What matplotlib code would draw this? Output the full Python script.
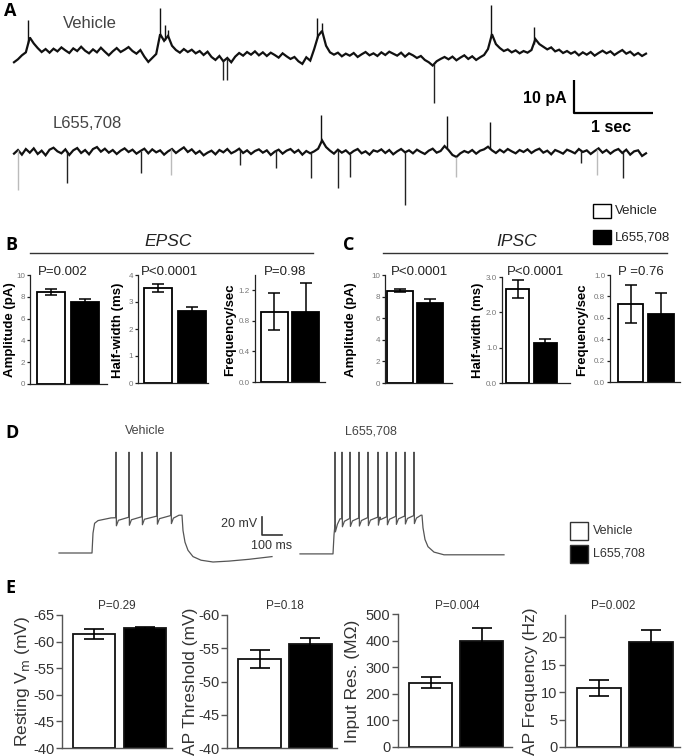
import numpy as np
import matplotlib
matplotlib.use('Agg')
import matplotlib.pyplot as plt
from matplotlib.patches import Rectangle

plt.rcParams['font.family'] = ['Liberation Sans', 'DejaVu Sans']

# ---------------------------------------------------------------- data
GROUPS = ['Vehicle', 'L655,708']

# A: example traces (pA), sampled every SAMPLE_DT seconds
SAMPLE_DT = 0.05
VEH_TRACE = [-2.5, -1.6, -0.4, 0.5, 5.0, 3.2, 1.8, 0.6, 1.5, 0.4,
             1.6, 0.8, 2.0, 1.1, 0.3, 1.7, 0.9, 2.2, 1.0, 0.2,
             1.4, 0.5, 1.9, 0.7, -0.4, 0.8, 1.8, 0.6, 1.3, 2.1,
             0.9, 0.1, 1.2, -0.8, -2.4, -1.2, 0.0,
             6.0, 4.0, 5.5, 2.5, 1.2, 0.4, 1.5,
             0.6, 1.3, 0.2, 0.9, -0.3, 0.7, -0.9, -1.8, -0.6, -2.2,
             -1.2, -2.5, -0.8, 0.3, -0.5, 0.6, -0.2, 0.8, -0.4, 0.5,
             -0.6, 0.4, -0.3, -1.1, 0.2, -0.7, -1.5, -0.9, -2.2, -3.0,
             -1.0, -2.0, 1.5,
             5.5, 7.0, 2.5, 0.5,
             -0.2, 0.4, -0.7, 0.1, -0.5, 0.3, -0.9, -0.1, 0.6, -0.4,
             0.2, -0.6, 0.5, -0.3, 0.7, 0.1, -0.5, 0.4, -0.8, 0.2,
             -0.4, -1.2, -0.6, -1.8, -2.5, -3.5, -2.2, -1.5, -0.9, -1.6,
             -0.8, -1.9, -1.1, -0.4, -1.5, -0.7, -1.8, -1.0, -0.3, 1.5,
             6.0, 3.0, 1.8, 0.9, 1.4, 0.5, 1.1, 0.2, 0.9,
             0.4, 1.2, 4.5, 3.0, 2.2, 1.4, 2.0, 0.8, 1.3, 0.3,
             0.9, 0.1, 0.7, -0.4, 0.5, -0.2, 0.6, -0.5, 0.3, 1.0,
             0.2, 0.8, -0.3, 0.5, 1.2, 0.1, 0.7, -0.4, 0.3, -0.6, 0.1]
L655_TRACE = [-0.5, 0.6, -0.8, 0.9, -0.2, 1.1, -0.6, 0.4, -1.0, 0.7,
              1.3, 0.2, -0.4, 0.8, -0.9, 0.5, 1.2, -0.3, 0.6, -0.7,
              0.9, 1.5, 0.1, 1.0, -0.2, 0.6, -0.6, 0.4, 1.1, 0.0,
              0.7, -0.5, 0.3, 1.0, -0.4, 0.8, -0.1, 0.5, -0.8, 0.2,
              0.9, -0.3, 0.6, 1.4, 0.0, 0.8, -0.5, 0.3, -1.0, -0.2,
              0.4, -0.7, 0.6, -0.1, 0.9, -0.4, 0.2, 1.0, -0.3, 0.5,
              -0.6, 0.3, 0.8, -0.2, 0.5, -0.9, 0.1, 0.7, -0.5, 0.4,
              0.9, -0.2, 0.6, -0.8, 0.3, -0.4, 0.2, 1.0, 3.5, 1.5,
              0.4, -0.5, 0.7, -0.2, 0.5, -0.6, 0.3, 0.9, -0.4, 0.2,
              -0.8, 0.5, 0.1, 0.8, -0.3, 0.6, -0.7, 0.2, 0.9, -0.1,
              0.5, -0.4, 0.7, 0.0, -0.6, 0.4, 1.0, -0.2, 0.3, 1.8,
              0.6, -0.9, -1.5, -0.4, 0.3, -0.2, 0.6, -0.5, 0.4, 0.8,
              1.6, 0.5, -0.3, 0.7, -0.1, 0.9, 0.2, -0.4, 0.6, 0.0,
              0.8, -0.3, 0.5, 1.0, -0.2, 0.4, -0.7, 0.6, 0.1, -0.5,
              0.7, 0.2, -0.4, 0.9, 0.0, 0.5, -0.6, 0.3, 1.1, -0.2,
              0.6, -0.5, 0.4, 0.9, -0.3, 0.7, -0.8, 0.2, 0.5, -1.2, -0.4]
VEH_UP_T = [0.18, 1.85, 1.91, 1.95, 3.84, 3.90, 6.04, 6.58]
VEH_UP_PEAK = [10.3, 13.9, 8.8, 7.3, 10.9, 9.4, 14.8, 8.2]
VEH_DOWN_T = [2.65, 2.70, 5.32]
VEH_DOWN_PEAK = [-7.9, -7.9, -14.8]
L655_UP_T = [3.89, 5.48, 6.03]
L655_UP_PEAK = [11.2, 10.9, 9.1]
L655_DOWN_T = [0.05, 0.67, 1.61, 1.99, 2.86, 3.32, 3.76, 4.10, 4.25, 4.95, 5.59, 7.18, 7.38, 7.71]
L655_DOWN_PEAK = [-11.5, -9.4, -6.4, -7.0, -3.9, -4.8, -7.9, -10.9, -7.6, -16.1, -7.6, -3.3, -7.0, -7.9]
L655_DOWN_FAINT = [1, 0, 0, 1, 0, 0, 0, 0, 0, 0, 1, 0, 1, 0]
A_SCALE_T = 1.0    # s
A_SCALE_I = 10.0   # pA

# B: EPSC
EPSC_AMP, EPSC_AMP_ERR = [8.4, 7.55], [0.27, 0.22]
EPSC_HW, EPSC_HW_ERR = [3.52, 2.65], [0.15, 0.16]
EPSC_FREQ, EPSC_FREQ_ERR = [0.92, 0.92], [0.24, 0.37]
EPSC_P = ['P=0.002', 'P<0.0001', 'P=0.98']
# C: IPSC
IPSC_AMP, IPSC_AMP_ERR = [8.55, 7.38], [0.15, 0.40]
IPSC_HW, IPSC_HW_ERR = [2.66, 1.14], [0.25, 0.10]
IPSC_FREQ, IPSC_FREQ_ERR = [0.73, 0.64], [0.175, 0.19]
IPSC_P = ['P<0.0001', 'P<0.0001', 'P =0.76']

# D: current-clamp traces (ms, mV)
D_VEH_T = [0, 165, 170, 178, 195, 260, 600, 615, 620, 630, 645, 670, 710, 770, 850, 950, 1065]
D_VEH_V = [-70, -70, -48, -37, -34, -31, -28, -28, -45, -58, -67, -74, -78, -80, -79, -77, -74]
D_VEH_SPIKES = [285, 350, 415, 490, 560]
D_L655_T = [0, 165, 170, 175, 200, 400, 605, 610, 615, 625, 640, 670, 720, 820, 1020]
D_L655_V = [-71, -71, -50, -38, -32, -30, -28, -28, -42, -55, -63, -69, -72, -72, -72]
D_L655_SPIKES = [175, 210, 250, 295, 340, 390, 435, 480, 525, 570]
D_SPIKE_PEAK = 42.0
D_AHP_DROP = 9.0
D_SCALE_T = 100.0  # ms
D_SCALE_V = 20.0   # mV

# E: intrinsic properties
RMP, RMP_ERR = [-61.4, -62.5], [0.9, 0.2]
THR, THR_ERR = [-53.4, -55.7], [1.35, 0.85]
RIN, RIN_ERR = [242, 399], [22, 47]
APF, APF_ERR = [10.65, 19.1], [1.45, 2.1]
E_P = ['P=0.29', 'P=0.18', 'P=0.004', 'P=0.002']

# ---------------------------------------------------------------- figure
W, H = 685, 756
fig = plt.figure(figsize=(W / 100, H / 100), dpi=100)


def fx(px):
    return px / W


def fy(py):
    return 1 - py / H


def ax_px(l, t, r, b):
    return fig.add_axes([l / W, 1 - b / H, (r - l) / W, (b - t) / H])


def label(px, py, s, **kw):
    fig.text(fx(px), fy(py), s, **kw)


PANEL_FONT = dict(fontsize=13, fontweight='bold', family=['Open Sans', 'DejaVu Sans'],
                  ha='left', va='center')

# ---------------------------------------------------------------- A
axA = ax_px(0, 0, 685, 210)
axA.set_axis_off()
axA.set_xlim(-14 / 79, 671 / 79)
axA.set_ylim(-(210 - 54) / 3.3, 54 / 3.3)
L655_OFF = -(152 - 54) / 3.3

tv = np.arange(len(VEH_TRACE)) * SAMPLE_DT
tl = np.arange(len(L655_TRACE)) * SAMPLE_DT
veh = np.array(VEH_TRACE)
l655 = np.array(L655_TRACE) + L655_OFF
axA.plot(tv, veh, color='#111111', lw=1.6, solid_joinstyle='miter')
axA.plot(tl, l655, color='#111111', lw=1.6, solid_joinstyle='miter')
axA.vlines(VEH_UP_T, np.interp(VEH_UP_T, tv, veh), VEH_UP_PEAK, color='#111111', lw=1.0)
axA.vlines(VEH_DOWN_T, np.interp(VEH_DOWN_T, tv, veh), VEH_DOWN_PEAK, color='#222222', lw=1.0)
axA.vlines(L655_UP_T, np.interp(L655_UP_T, tl, l655), np.array(L655_UP_PEAK) + L655_OFF,
           color='#111111', lw=1.0)
for t, p, faint in zip(L655_DOWN_T, L655_DOWN_PEAK, L655_DOWN_FAINT):
    axA.vlines(t, np.interp(t, tl, l655), p + L655_OFF,
               color='#bbbbbb' if faint else '#222222', lw=1.0)
# scale bar
sb_t0 = (574 - 14) / 79
sb_i0 = -(113 - 54) / 3.3
axA.plot([sb_t0, sb_t0, sb_t0 + A_SCALE_T], [sb_i0 + A_SCALE_I, sb_i0, sb_i0],
         color='black', lw=1.6, solid_capstyle='butt')
label(545, 98, '10 pA', fontsize=11.5, fontweight='bold', ha='center', va='center')
label(611, 127, '1 sec', fontsize=11.5, fontweight='bold', ha='center', va='center')
label(90, 24, 'Vehicle', fontsize=12, color='#444444', ha='center', va='center')
label(87, 123, 'L655,708', fontsize=12, color='#444444', ha='center', va='center')
label(4, 11, 'A', **PANEL_FONT)

# ---------------------------------------------------------------- bar helper


def bar_panel(rect, c0, c1, barw, vals, errs, ylim, yticks, yticklabels, st):
    l, t, r, b = rect
    ax = ax_px(l, t, r, b)
    step = c1 - c0
    ax.set_xlim(-(c0 - l) / step, 1 + (r - c1) / step)
    base = ylim[0]
    x = np.arange(len(vals))
    ax.bar(x, [v - base for v in vals], bottom=base, width=barw / step,
           color=['white', 'black'], edgecolor=st['edge'], linewidth=st['blw'], zorder=2)
    ax.errorbar(x, vals, yerr=errs, fmt='none', ecolor='black', elinewidth=st['elw'],
                capsize=st['cap'], capthick=st['elw'], zorder=3)
    ax.set_ylim(*ylim)
    ax.set_yticks(yticks)
    ax.set_yticklabels(yticklabels)
    ax.set_xticks([])
    for s in ['top', 'right']:
        ax.spines[s].set_visible(False)
    for s in ['left', 'bottom']:
        ax.spines[s].set_color(st['spine'])
        ax.spines[s].set_linewidth(st['slw'])
    ax.tick_params(axis='y', labelsize=st['tsize'], colors=st['spine'], labelcolor=st['tcolor'],
                   length=st['tlen'], width=st['slw'], pad=st['tpad'])
    ax.patch.set_alpha(0)
    return ax


BC = dict(edge='black', blw=1.3, elw=1.1, cap=4.5, spine='#222222', slw=0.9,
          tsize=5.8, tcolor='#777777', tlen=2.5, tpad=1)
EST = dict(edge='#111111', blw=1.3, elw=1.2, cap=7, spine='#555555', slw=1.0,
           tsize=10.5, tcolor='#333333', tlen=4, tpad=1.5)

# ---------------------------------------------------------------- B
label(5, 245, 'B', **PANEL_FONT)
fig.add_artist(plt.Line2D([fx(30), fx(313)], [fy(253), fy(253)], color='#333333', lw=1.0))
label(168, 242, 'EPSC', fontsize=12.5, style='italic', ha='center', va='center', color='#222222')
bar_panel((30, 275, 107, 384), 51, 84.5, 28, EPSC_AMP, EPSC_AMP_ERR, (0, 10),
          [0, 2, 4, 6, 8, 10], ['0', '2', '4', '6', '8', '10'], BC)
bar_panel((138, 275, 208, 383), 158, 191.5, 28, EPSC_HW, EPSC_HW_ERR, (0, 4),
          [0, 1, 2, 3, 4], ['0', '1', '2', '3', '4'], BC)
bar_panel((255, 275, 325, 382), 274, 305.5, 27, EPSC_FREQ, EPSC_FREQ_ERR, (0, 1.4),
          [0, 0.4, 0.8, 1.2], ['0.0', '0.4', '0.8', '1.2'], BC)
for xc, s in zip([63, 170, 285], EPSC_P):
    label(xc, 272, s, fontsize=9.5, ha='center', va='center', color='#222222')
for xc, s in zip([10, 118, 230], ['Amplitude (pA)', 'Half-width (ms)', 'Frequency/sec']):
    label(xc, 330, s, fontsize=9.5, fontweight='bold', rotation=90, ha='center', va='center')

# ---------------------------------------------------------------- C
label(343, 245, 'C', **PANEL_FONT)
fig.add_artist(plt.Line2D([fx(383), fx(667)], [fy(253), fy(253)], color='#333333', lw=1.0))
label(517, 242, 'IPSC', fontsize=12.5, style='italic', ha='center', va='center', color='#222222')
bar_panel((385, 275, 452, 383), 400, 430, 26, IPSC_AMP, IPSC_AMP_ERR, (0, 10),
          [0, 2, 4, 6, 8, 10], ['0', '2', '4', '6', '8', '10'], BC)
bar_panel((502, 277, 570, 383), 517.5, 545, 23, IPSC_HW, IPSC_HW_ERR, (0, 3.0),
          [0, 1, 2, 3], ['0.0', '1.0', '2.0', '3.0'], BC)
bar_panel((610, 275, 680, 382), 630.5, 661, 25.5, IPSC_FREQ, IPSC_FREQ_ERR, (0, 1.0),
          [0, 0.2, 0.4, 0.6, 0.8, 1.0], ['0.0', '0.2', '0.4', '0.6', '0.8', '1.0'], BC)
for xc, s in zip([420, 535, 641], IPSC_P):
    label(xc, 272, s, fontsize=9.5, ha='center', va='center', color='#222222')
for xc, s in zip([351, 478, 582], ['Amplitude (pA)', 'Half-width (ms)', 'Frequency/sec']):
    label(xc, 330, s, fontsize=9.5, fontweight='bold', rotation=90, ha='center', va='center')

# legend (B/C)
for (top, col, name) in [(204, 'white', GROUPS[0]), (230, 'black', GROUPS[1])]:
    fig.add_artist(Rectangle((fx(593), fy(top + 14)), 18 / W, 14 / H, transform=fig.transFigure,
                             facecolor=col, edgecolor='black', lw=1.0))
    label(615, top + 7, name, fontsize=9.5, ha='left', va='center', color='#222222')

# ---------------------------------------------------------------- D
label(5, 433, 'D', **PANEL_FONT)
axD = ax_px(0, 440, 685, 570)
axD.set_axis_off()
axD.set_xlim(-59 * 5, (685 - 59) * 5)
axD.set_ylim(-70 - (570 - 553) / 0.9, -70 + (553 - 440) / 0.9)


def ap_vertices(bt, bv, spikes):
    t = list(bt)
    v = list(bv)
    for s in spikes:
        for dt, kind in [(-1, 'b'), (0, 'p'), (2, 'a'), (12, 'r')]:
            tt = s + dt
            base = float(np.interp(tt, bt, bv))
            val = {'b': base, 'p': D_SPIKE_PEAK, 'a': base - D_AHP_DROP, 'r': base - 3}[kind]
            t.append(tt)
            v.append(val)
    order = np.argsort(t, kind='stable')
    return np.array(t)[order], np.array(v)[order]


L655_T_OFF = (300 - 59) * 5
vt, vv = ap_vertices(D_VEH_T, D_VEH_V, D_VEH_SPIKES)
lt, lv = ap_vertices(D_L655_T, D_L655_V, D_L655_SPIKES)
axD.plot(vt, vv, color='#555555', lw=0.9)
axD.plot(lt + L655_T_OFF, lv, color='#555555', lw=0.9)
sbx = (262 - 59) * 5
sby = -70 + (553 - 535) / 0.9
axD.plot([sbx, sbx, sbx + D_SCALE_T], [sby + D_SCALE_V, sby, sby], color='#333333', lw=1.2)
label(257, 524, '20 mV', fontsize=9, ha='right', va='center', color='#333333')
label(272, 546, '100 ms', fontsize=9, ha='center', va='center', color='#333333')
label(145, 431, 'Vehicle', fontsize=9, ha='center', va='center', color='#444444')
label(371, 431, 'L655,708', fontsize=9, ha='center', va='center', color='#444444')
for (top, col, name) in [(522, 'white', GROUPS[0]), (545, 'black', GROUPS[1])]:
    fig.add_artist(Rectangle((fx(570), fy(top + 18)), 18 / W, 18 / H, transform=fig.transFigure,
                             facecolor=col, edgecolor='#333333', lw=1.0))
    label(593, top + 9, name, fontsize=9, ha='left', va='center', color='#333333')

# ---------------------------------------------------------------- E
label(5, 588, 'E', **PANEL_FONT)
bar_panel((62, 615, 172, 748), 94, 144.5, 42, RMP, RMP_ERR, (-40, -65),
          [-40, -45, -50, -55, -60, -65], ['-40', '-45', '-50', '-55', '-60', '-65'], EST)
bar_panel((227, 615, 337, 748), 259.5, 310, 43, THR, THR_ERR, (-40, -60),
          [-40, -45, -50, -55, -60], ['-40', '-45', '-50', '-55', '-60'], EST)
bar_panel((398, 614, 512, 747), 430.5, 481.5, 43, RIN, RIN_ERR, (0, 500),
          [0, 100, 200, 300, 400, 500], ['0', '100', '200', '300', '400', '500'], EST)
bar_panel((565, 615, 680, 747), 599, 650.5, 44, APF, APF_ERR, (0, 24),
          [0, 5, 10, 15, 20], ['0', '5', '10', '15', '20'], EST)
for xc, s in zip([117, 285, 457, 613], E_P):
    label(xc, 606, s, fontsize=8.5, ha='center', va='center', color='#333333')
for xc, s in zip([23, 190, 352, 530],
                 ['Resting V$_{\\rm m}$ (mV)', 'AP Threshold (mV)', 'Input Res. (M\u03a9)',
                  'AP Frequency (Hz)']):
    label(xc, 681, s, fontsize=12.5, rotation=90, ha='center', va='center', color='#333333')

fig.savefig('out.png', dpi=100)
